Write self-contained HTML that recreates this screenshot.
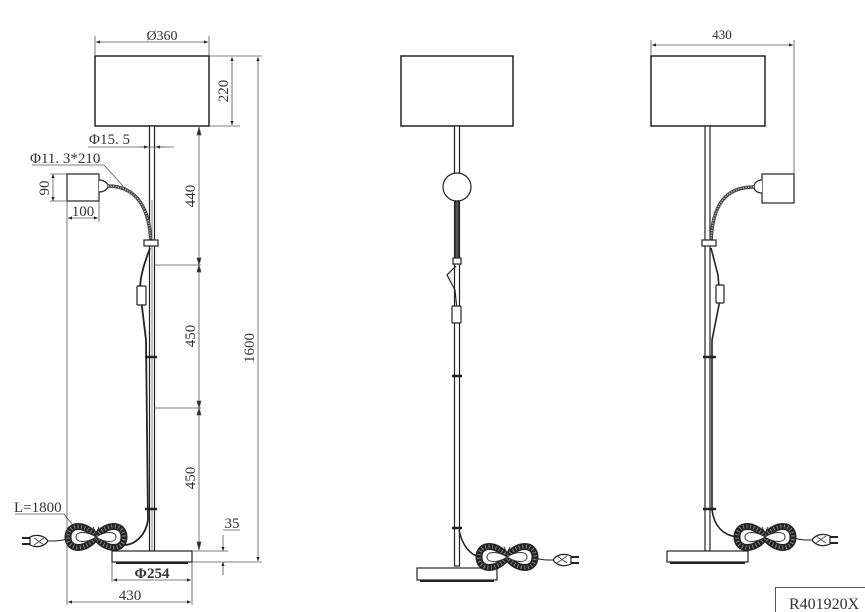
<!DOCTYPE html>
<html><head><meta charset="utf-8"><style>
html,body{margin:0;padding:0;background:#fff;width:865px;height:612px;overflow:hidden}
svg{display:block}
text{font-family:"Liberation Serif",serif;fill:#333}
</style></head><body>
<svg width="865" height="612" viewBox="0 0 865 612" xmlns="http://www.w3.org/2000/svg">
<defs>
<marker id="a" viewBox="0 0 10 10" refX="10" refY="5" markerWidth="7" markerHeight="5" orient="auto-start-reverse"><path d="M0,1 L10,5 L0,9z" fill="#222"/></marker>
<g id="coil">
<path d="M28,12 C18,-2 0,-2 0,12 C0,26 18,26 28,12 C38,-2 56,-2 56,12 C56,26 38,26 28,12" fill="none" stroke="#222" stroke-width="7"/>
<path d="M28,12 C18,-2 0,-2 0,12 C0,26 18,26 28,12 C38,-2 56,-2 56,12 C56,26 38,26 28,12" fill="none" stroke="#888" stroke-width="4" stroke-dasharray="1 2.5"/>
<path d="M28,12 C19,6 8,6 8,12 C8,18 19,18 28,12 C37,6 48,6 48,12 C48,18 37,18 28,12" fill="#fff" stroke="#333" stroke-width="1"/>
<path d="M25,2 L28,8 L31,2 M28,8 V14" stroke="#333" fill="none" stroke-width="1"/>
</g>
<g id="plug">
<path d="M0,0 C4,-6 12,-7 18,-4 L18,4 C12,7 4,6 0,0z" fill="#fff" stroke="#222" stroke-width="1.2"/>
<path d="M4,-4 L14,3 M4,3 L14,-4" stroke="#444" stroke-width="0.8"/>
<path d="M18,-3 h8 M18,3 h8" stroke="#222" stroke-width="2"/>
</g>
</defs>

<g stroke="#222" fill="none" stroke-width="1.2">
<rect x="95" y="56" width="114" height="70" stroke-width="1.5"/>
<rect x="149.5" y="126" width="5" height="425" fill="#fff"/>
<line x1="152" y1="200" x2="152" y2="550" stroke="#888" stroke-width="1"/>
<rect x="112" y="551" width="80" height="11" fill="#fff"/>
<line x1="116" y1="563" x2="188" y2="563" stroke-width="2"/>
<rect x="67" y="174" width="32" height="27"/>
<path d="M99,180 C105,180 108,184 108,186 C108,189 104,192 99,192" fill="#fff"/>
<path d="M108,186 C138,186 150,210 151,245" stroke="#444" stroke-width="3.5"/>
<path d="M108,186 C138,186 150,210 151,245" stroke="#ccc" stroke-width="1.5" stroke-dasharray="1 1.5"/>
<rect x="144" y="240" width="14" height="6" fill="#fff"/>
<path d="M150,248 C145,262 140,275 140,290 L146,340 L148,520 C146,535 135,545 124,545" stroke-width="1.8"/>
<rect x="137" y="286" width="9" height="19" rx="1" fill="#fff"/>
<line x1="145" y1="357" x2="157" y2="357" stroke-width="2.5"/>
<line x1="145" y1="509" x2="157" y2="509" stroke-width="2.5"/>
<use href="#coil" x="68" y="525"/>
<path d="M68,539 C60,541 55,541 48,541" stroke-width="1"/>
<use href="#plug" x="48" y="541" transform="rotate(180 48 541)"/>
</g>

<g stroke="#555" stroke-width="0.8" fill="none">
<line x1="95" y1="36" x2="95" y2="56"/><line x1="209" y1="36" x2="209" y2="56"/>
<line x1="96" y1="42" x2="208" y2="42" marker-start="url(#a)" marker-end="url(#a)"/>
<line x1="209" y1="56" x2="262" y2="56"/><line x1="209" y1="126" x2="240" y2="126"/>
<line x1="232" y1="57" x2="232" y2="125" marker-start="url(#a)" marker-end="url(#a)"/>
<line x1="258" y1="57" x2="258" y2="561" marker-start="url(#a)" marker-end="url(#a)"/>
<line x1="192" y1="562" x2="262" y2="562"/>
<line x1="199" y1="127" x2="199" y2="550" />
<path d="M199,127 l-2,8 h4z M199,550 l-2,-8 h4z M199,265 l-2,-7 h4z M199,265 l-2,7 h4z M199,408 l-2,-7 h4z M199,408 l-2,7 h4z" fill="#222"/>
<line x1="155" y1="265" x2="201" y2="265"/><line x1="155" y1="408" x2="201" y2="408"/>
<line x1="192" y1="551" x2="228" y2="551"/>
<line x1="223" y1="535" x2="223" y2="551" marker-end="url(#a)"/>
<line x1="223" y1="575" x2="223" y2="562" marker-end="url(#a)"/>
<line x1="223" y1="530" x2="240" y2="530"/>
<line x1="113" y1="580" x2="191" y2="580" marker-start="url(#a)" marker-end="url(#a)"/>
<line x1="112" y1="562" x2="112" y2="582"/><line x1="192" y1="562" x2="192" y2="605"/>
<line x1="68" y1="602" x2="191" y2="602" marker-start="url(#a)" marker-end="url(#a)"/>
<line x1="67" y1="201" x2="67" y2="605"/>
<line x1="88" y1="147" x2="174" y2="147"/>
<line x1="140" y1="147" x2="148" y2="147" marker-end="url(#a)"/>
<line x1="164" y1="147" x2="156" y2="147" marker-end="url(#a)"/>
<path d="M32,165 H104 L123,186"/>
<line x1="53" y1="174" x2="53" y2="201" marker-start="url(#a)" marker-end="url(#a)"/>
<line x1="50" y1="174" x2="67" y2="174"/><line x1="50" y1="201" x2="67" y2="201"/>
<line x1="99" y1="201" x2="99" y2="222"/>
<line x1="68" y1="218" x2="98" y2="218" marker-start="url(#a)" marker-end="url(#a)"/>
<path d="M15,514 H64 L72,524"/>
</g>
<g font-size="15">
<text x="162" y="40" text-anchor="middle" font-family="Liberation Sans" font-size="14">Ø360</text>
<text transform="translate(232,91) rotate(-90)" text-anchor="middle" dy="-4">220</text>
<text transform="translate(258,348) rotate(-90)" text-anchor="middle" dy="-4">1600</text>
<text transform="translate(199,196) rotate(-90)" text-anchor="middle" dy="-4">440</text>
<text transform="translate(199,336) rotate(-90)" text-anchor="middle" dy="-4">450</text>
<text transform="translate(199,478) rotate(-90)" text-anchor="middle" dy="-4">450</text>
<text x="232" y="528" text-anchor="middle">35</text>
<text x="152" y="578" text-anchor="middle" font-weight="bold" font-family="Liberation Sans">Φ254</text>
<text x="130" y="600" text-anchor="middle">430</text>
<text x="89" y="144">Φ15. 5</text>
<text x="30" y="163">Φ11. 3*210</text>
<text transform="translate(53,188) rotate(-90)" text-anchor="middle" dy="-4">90</text>
<text x="83" y="216" text-anchor="middle">100</text>
<text x="14" y="512">L=1800</text>
</g>

<g stroke="#222" fill="none" stroke-width="1.2">
<rect x="401" y="56" width="112" height="70" stroke-width="1.5"/>
<rect x="454.5" y="126" width="5" height="440" fill="#fff"/>
<rect x="455" y="200" width="4" height="60" fill="#555"/>
<circle cx="457" cy="187" r="14" fill="#fff"/>
<rect x="453" y="258" width="8" height="6" fill="#fff"/>
<path d="M456,266 L447,275 L455,290 L457,310" stroke-width="1.2"/>
<rect x="452" y="306" width="9" height="17" rx="1" fill="#fff"/>
<line x1="452" y1="376" x2="462" y2="376" stroke-width="2.5"/>
<line x1="452" y1="528" x2="462" y2="528" stroke-width="2.5"/>
<path d="M459,530 C462,545 470,555 480,557" stroke-width="1.5"/>
<rect x="417" y="568" width="80" height="12" fill="#fff"/>
<line x1="420" y1="581" x2="494" y2="581" stroke-width="2"/>
<use href="#coil" x="479" y="545"/>
<path d="M535,558 C542,560 545,560 553,560" stroke-width="1"/>
<use href="#plug" x="553" y="560"/>
</g>

<g stroke="#222" fill="none" stroke-width="1.2">
<rect x="651" y="56" width="114" height="70" stroke-width="1.5"/>
<rect x="705" y="126" width="5" height="425" fill="#fff"/>
<rect x="762" y="174" width="32" height="29"/>
<path d="M762,180 C756,180 754,184 754,187 C754,190 757,193 762,193" fill="#fff"/>
<path d="M754,187 C725,187 712,205 711,243" stroke="#444" stroke-width="3.5"/>
<path d="M754,187 C725,187 712,205 711,243" stroke="#ccc" stroke-width="1.5" stroke-dasharray="1 1.5"/>
<rect x="702" y="240" width="14" height="6" fill="#fff"/>
<path d="M711,248 L718,275 L720,300 L712,340 L712,510 C714,525 722,535 737,537" stroke-width="1.6"/>
<rect x="716" y="285" width="8" height="18" rx="1" fill="#fff"/>
<line x1="703" y1="357" x2="716" y2="357" stroke-width="2.5"/>
<line x1="703" y1="509" x2="716" y2="509" stroke-width="2.5"/>
<rect x="667" y="551" width="81" height="11" fill="#fff"/>
<line x1="670" y1="563" x2="745" y2="563" stroke-width="2"/>
<use href="#coil" x="737" y="525"/>
<path d="M793,538 C800,540 805,540 812,540" stroke-width="1"/>
<use href="#plug" x="812" y="540"/>
</g>
<g stroke="#555" stroke-width="0.8" fill="none">
<line x1="651" y1="40" x2="651" y2="56"/>
<line x1="794" y1="40" x2="794" y2="174"/>
<line x1="652" y1="45" x2="793" y2="45" marker-start="url(#a)" marker-end="url(#a)"/>
</g>
<text x="722" y="39" text-anchor="middle" font-size="13" font-family="Liberation Sans">430</text>

<rect x="775.5" y="587.5" width="95" height="30" fill="#fff" stroke="#555" stroke-width="1"/>
<text x="789" y="609" font-size="16">R401920X</text>
</svg>
</body></html>
